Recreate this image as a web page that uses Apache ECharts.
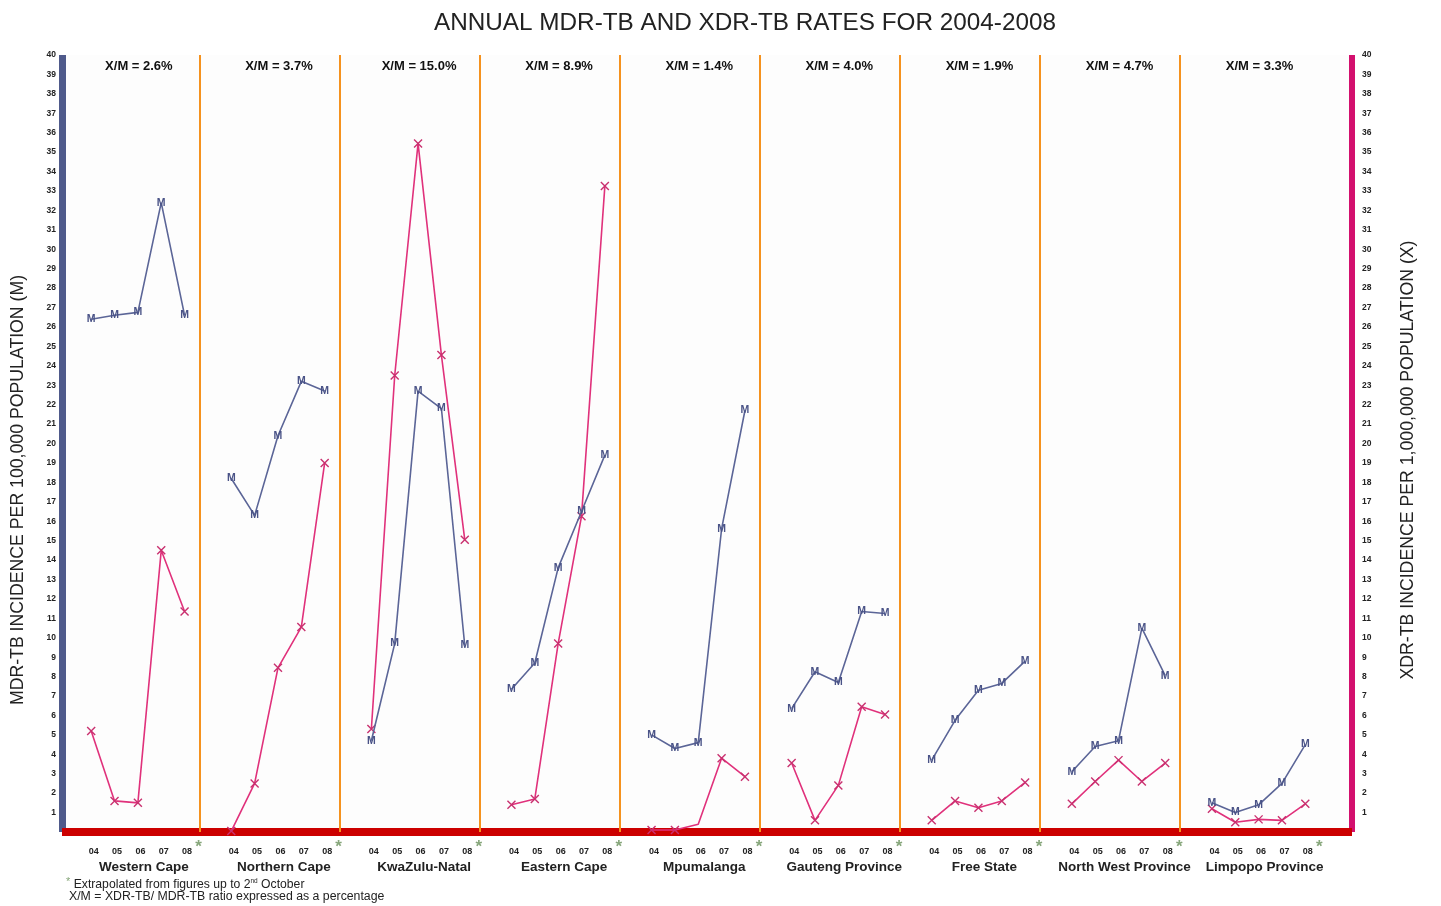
<!DOCTYPE html>
<html>
<head>
<meta charset="utf-8">
<script src="https://cdn.jsdelivr.net/npm/echarts@6/dist/echarts.min.js"></script>
<style>
html,body{margin:0;padding:0;background:#ffffff;}
#chart{width:1441px;height:906px;}
</style>
</head>
<body>
<div id="chart"></div>
<script>
const provinces = ['Western Cape','Northern Cape','KwaZulu-Natal','Eastern Cape','Mpumalanga','Gauteng Province','Free State','North West Province','Limpopo Province'];
const years = ['04','05','06','07','08'];
const ratios = ['2.6%','3.7%','15.0%','8.9%','1.4%','4.0%','1.9%','4.7%','3.3%'];
const yTicks = {min: 0, max: 40, step: 1};

// MDR-TB per 100,000 (M), one row per province, years 04-08
const mdrRates = [
  [26.4, 26.6, 26.75, 32.4, 26.6],
  [18.2, 16.3, 20.4, 23.2, 22.7],
  [4.7, 9.7, 22.7, 21.8, 9.6],
  [7.35, 8.7, 13.6, 16.5, 19.4],
  [5.0, 4.3, 4.6, 15.6, 21.7],
  [6.35, 8.25, 7.7, 11.35, 11.25],
  [3.7, 5.75, 7.3, 7.65, 8.8],
  [3.1, 4.4, 4.7, 10.5, 8.05],
  [1.5, 1.0, 1.4, 2.5, 4.5]
];
// XDR-TB per 1,000,000 (X)
const xdrRates = [
  [5.2, 1.6, 1.5, 14.5, 11.35],
  [0.05, 2.5, 8.45, 10.55, 19.0],
  [5.3, 23.5, 35.45, 24.55, 15.05],
  [1.4, 1.7, 9.7, 16.25, 33.25],
  [0.1, 0.1, 0.4, 3.8, 2.85],
  [3.55, 0.6, 2.4, 6.45, 6.05],
  [0.6, 1.6, 1.25, 1.6, 2.55],
  [1.45, 2.6, 3.7, 2.6, 3.55],
  [1.2, 0.5, 0.65, 0.6, 1.45]
];
// points drawn without a marker: [province index, year index]
const unmarkedX = [[4, 2]];

// layout of the shared value x axis (slots): each province takes 6 slots
const SLOT = 6, XMIN = -1.25, XMAX = 54, SEP_OFF = -1.375;
const xOf = (p, y) => p * SLOT + y;

const M_COLOR = '#5b6597', M_TEXT = '#4a5387';
const X_COLOR = '#e0317b', X_MARK = '#c9306f';

const series = [];
provinces.forEach((name, p) => {
  series.push({
    type: 'line', name: 'M ' + name, xAxisIndex: 0, yAxisIndex: 0,
    data: mdrRates[p].map((v, y) => [xOf(p, y), v]),
    symbol: 'circle', symbolSize: 2,
    itemStyle: {color: 'rgba(0,0,0,0)'},
    lineStyle: {color: M_COLOR, width: 1.6},
    label: {show: true, position: 'inside', formatter: 'M', fontSize: 10.5, fontWeight: 'bold', color: M_TEXT, fontFamily: 'Liberation Sans'},
    z: 4, silent: true
  });
  series.push({
    type: 'line', name: 'X ' + name, xAxisIndex: 0, yAxisIndex: 1,
    data: xdrRates[p].map((v, y) => {
      const skip = unmarkedX.some(u => u[0] === p && u[1] === y);
      return skip ? {value: [xOf(p, y), v], symbol: 'none'} : [xOf(p, y), v];
    }),
    symbol: 'path://M0,0L10,10M10,0L0,10', symbolSize: 8,
    itemStyle: {color: 'rgba(0,0,0,0)', borderColor: X_MARK, borderWidth: 1.4},
    lineStyle: {color: X_COLOR, width: 1.6},
    z: 3, silent: true
  });
});
// province separators
series.push({
  type: 'line', data: [], xAxisIndex: 0, yAxisIndex: 0, silent: true,
  markLine: {
    silent: true, symbol: 'none', label: {show: false},
    lineStyle: {color: '#f5921e', width: 2, type: 'solid'},
    data: provinces.slice(1).map((_, i) => ({xAxis: (i + 1) * SLOT + SEP_OFF}))
  }
});

const yearPositions = [], provPositions = [], lastYearPositions = [];
provinces.forEach((_, p) => {
  years.forEach((_, y) => yearPositions.push(xOf(p, y)));
  provPositions.push(xOf(p, 2));
  lastYearPositions.push(xOf(p, years.length - 1));
});

const hiddenX = (extra) => Object.assign({
  type: 'value', min: XMIN, max: XMAX,
  splitLine: {show: false}, axisTick: {show: false}, axisLine: {show: false}
}, extra);

const chart = echarts.init(document.getElementById('chart'), null, {renderer: 'canvas'});
chart.setOption({
  animation: false,
  backgroundColor: '#ffffff',
  textStyle: {fontFamily: 'Liberation Sans'},
  title: {
    text: 'ANNUAL MDR-TB AND XDR-TB RATES FOR 2004-2008',
    left: 740, top: 6, textAlign: 'center',
    textStyle: {fontSize: 24.3, fontWeight: 'normal', color: '#222', fontFamily: 'Liberation Sans'}
  },
  grid: {left: 62, right: 89, top: 55, bottom: 74, show: true, backgroundColor: '#fdfdfd', borderWidth: 0},
  xAxis: [
    {
      type: 'value', position: 'bottom', min: XMIN, max: XMAX,
      splitLine: {show: false}, axisTick: {show: false},
      axisLine: {show: true, onZero: false, lineStyle: {color: '#cc0000', width: 8, cap: 'butt'}},
      axisLabel: {
        customValues: yearPositions, margin: 15, fontSize: 9, fontWeight: 'bold', color: '#222',
        padding: [0, 0, 0, 5],
        formatter: v => years[((Math.round(v) % SLOT) + SLOT) % SLOT]
      }
    },
    hiddenX({
      position: 'bottom',
      axisLabel: {
        customValues: provPositions, margin: 28, fontSize: 13.5, fontWeight: 'bold', color: '#222',
        padding: [0, 0, 0, 12],
        formatter: v => provinces[Math.round(v / SLOT)]
      }
    }),
    hiddenX({
      position: 'top',
      axisLabel: {
        inside: true, customValues: provPositions, margin: 5, fontSize: 13, fontWeight: 'bold', color: '#111',
        padding: [0, 0, 0, 2],
        formatter: v => 'X/M = ' + ratios[Math.round(v / SLOT)]
      }
    }),
    hiddenX({
      position: 'bottom',
      axisLabel: {
        customValues: lastYearPositions, margin: 7, fontSize: 17, fontWeight: 'bold', color: '#86a67a',
        padding: [0, 0, 0, 28],
        formatter: () => '*'
      }
    })
  ],
  yAxis: [
    {
      type: 'value', position: 'left', min: yTicks.min, max: yTicks.max, interval: yTicks.step,
      splitLine: {show: false}, axisTick: {show: false},
      axisLine: {show: true, onZero: false, lineStyle: {color: '#4f5a8b', width: 7, cap: 'butt'}},
      axisLabel: {margin: 6, fontSize: 8.5, fontWeight: 'bold', color: '#222', formatter: v => v === 0 ? '' : String(v)}
    },
    {
      type: 'value', position: 'right', min: yTicks.min, max: yTicks.max, interval: yTicks.step,
      splitLine: {show: false}, axisTick: {show: false},
      axisLine: {show: true, onZero: false, lineStyle: {color: '#d3106e', width: 6, cap: 'butt'}},
      axisLabel: {margin: 10, fontSize: 8.5, fontWeight: 'bold', color: '#222', formatter: v => v === 0 ? '' : String(v)}
    }
  ],
  graphic: [
    {type: 'text', x: 18, y: 490, rotation: Math.PI / 2,
     style: {text: 'MDR-TB INCIDENCE PER 100,000 POPULATION (M)', fontSize: 17.7, fill: '#222', align: 'center', verticalAlign: 'middle', fontFamily: 'Liberation Sans'}},
    {type: 'text', x: 1408, y: 460, rotation: Math.PI / 2,
     style: {text: 'XDR-TB INCIDENCE PER 1,000,000 POPULATION (X)', fontSize: 17.7, fill: '#222', align: 'center', verticalAlign: 'middle', fontFamily: 'Liberation Sans'}},
    {type: 'text', x: 66, y: 876,
     style: {text: '{g|*} Extrapolated from figures up to 2{s|nd} October', fontSize: 12.2, fill: '#222', fontFamily: 'Liberation Sans',
       rich: {g: {fill: '#86a67a', fontSize: 11, padding: [0, 0, 6, 0]}, s: {fontSize: 6.5, padding: [0, 0, 6, 0]}}}},
    {type: 'text', x: 69, y: 891,
     style: {text: 'X/M = XDR-TB/ MDR-TB ratio expressed as a percentage', fontSize: 12.3, fill: '#222', fontFamily: 'Liberation Sans'}}
  ],
  series: series
});
</script>
</body>
</html>
